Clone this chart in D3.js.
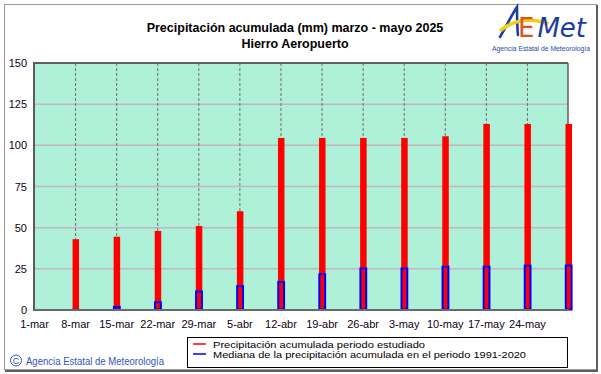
<!DOCTYPE html>
<html><head><meta charset="utf-8">
<script src="https://cdn.jsdelivr.net/npm/d3@7"></script>
<style>
html,body{margin:0;padding:0;background:#fff;}
svg{display:block;font-family:"Liberation Sans",Arial,sans-serif;}
</style></head>
<body><svg id="c" width="601" height="374"></svg>
<script>
// ---- data ----
const barDates = ["2025-03-08","2025-03-15","2025-03-22","2025-03-29","2025-04-05","2025-04-12","2025-04-19","2025-04-26","2025-05-03","2025-05-10","2025-05-17","2025-05-24","2025-05-31"];
const acumulada = [43, 44.5, 48, 51, 60, 104.5, 104.5, 104.5, 104.5, 105.5, 113, 113, 113];
const mediana = [0.4, 2.2, 5, 11.5, 14.8, 17.3, 22, 25.5, 25.5, 26.6, 26.6, 27.2, 27.3];
const tickDates = ["2025-03-01","2025-03-08","2025-03-15","2025-03-22","2025-03-29","2025-04-05","2025-04-12","2025-04-19","2025-04-26","2025-05-03","2025-05-10","2025-05-17","2025-05-24"];
const tickLabels = ["1-mar","8-mar","15-mar","22-mar","29-mar","5-abr","12-abr","19-abr","26-abr","3-may","10-may","17-may","24-may"];
const yTicks = [0,25,50,75,100,125,150];
const titleLines = ["Precipitación acumulada (mm) marzo - mayo 2025","Hierro Aeropuerto"];
const legendLabels = ["Precipitación acumulada periodo estudiado","Mediana de la precipitación acumulada en el periodo 1991-2020"];

const parse = s => new Date(s + "T00:00:00Z");
const svg = d3.select("#c");
const L = 34, R = 568, T = 63, B = 310;

const x = d3.scaleUtc().domain([parse("2025-03-01"), parse("2025-05-31")]).range([L, R]);
const y = d3.scaleLinear().domain([0,150]).range([B, T]);

// outer frame
svg.append("rect").attr("x",4.5).attr("y",4.5).attr("width",592).attr("height",365)
  .attr("fill","#fff").attr("stroke","#9a9a9a").attr("stroke-width",1);
svg.append("path").attr("d","M597,5 V371 H5").attr("fill","none").attr("stroke","#606060").attr("stroke-width",2);

// plot background
svg.append("rect").attr("x",L).attr("y",T).attr("width",R-L).attr("height",B-T).attr("fill","#aff0d8");

// horizontal grid
svg.append("g").selectAll("line").data(yTicks.filter(v=>v>0 && v<150)).join("line")
  .attr("x1",L).attr("x2",R).attr("y1",d=>y(d)).attr("y2",d=>y(d))
  .attr("stroke","#c4b4c4").attr("stroke-width",1.5);

// vertical dashed grid
svg.append("g").selectAll("line").data(tickDates.slice(1)).join("line")
  .attr("x1",d=>x(parse(d))+0.5).attr("x2",d=>x(parse(d))+0.5).attr("y1",T).attr("y2",B)
  .attr("stroke","#6e6e6e").attr("stroke-width",1).attr("stroke-dasharray","3,2");

// plot borders
svg.append("line").attr("x1",L).attr("x2",R).attr("y1",T).attr("y2",T).attr("stroke","#606060").attr("stroke-width",2);
svg.append("line").attr("x1",R).attr("x2",R).attr("y1",T).attr("y2",B).attr("stroke","#606060").attr("stroke-width",1.5);

// red bars
svg.append("g").selectAll("rect").data(barDates).join("rect")
  .attr("x",(d)=>x(parse(d))-2.5).attr("width",6.5)
  .attr("y",(d,i)=>y(acumulada[i])).attr("height",(d,i)=>B-y(acumulada[i]))
  .attr("fill","#ff0000");

// blue median outlines
svg.append("g").selectAll("rect").data(barDates).join("rect")
  .attr("x",(d)=>x(parse(d))-2.2).attr("width",5.8)
  .attr("y",(d,i)=>y(mediana[i])+0.5).attr("height",(d,i)=>Math.max(0.1,B-y(mediana[i])-1))
  .attr("fill","none").attr("stroke","#0000ff").attr("stroke-width",2);

// axes lines
svg.append("line").attr("x1",L).attr("x2",L).attr("y1",T-1).attr("y2",B+1).attr("stroke","#5a5a5a").attr("stroke-width",2);
svg.append("line").attr("x1",L).attr("x2",R+1).attr("y1",B).attr("y2",B).attr("stroke","#6a6a6a").attr("stroke-width",2);

// y axis labels
const yAxis = d3.axisLeft(y).tickValues(yTicks).tickSize(0).tickPadding(6);
const gy = svg.append("g").attr("transform",`translate(${L-1},0)`).call(yAxis);
gy.select(".domain").remove();
gy.selectAll("text").attr("font-size",11).attr("fill","#100020").attr("font-family","Liberation Sans, Arial, sans-serif");

// x axis labels
const xAxis = d3.axisBottom(x).tickValues(tickDates.map(parse)).tickSize(0).tickPadding(10)
  .tickFormat((d,i)=>tickLabels[i]);
const gx = svg.append("g").attr("transform",`translate(0,${B})`).call(xAxis);
gx.select(".domain").remove();
gx.selectAll("text").attr("font-size",11).attr("fill","#100020").attr("font-family","Liberation Sans, Arial, sans-serif");

// title
svg.append("g").selectAll("text").data(titleLines).join("text")
  .attr("x",295).attr("y",(d,i)=>32+i*15.5).attr("text-anchor","middle")
  .attr("font-size",12.5).attr("font-weight","bold").attr("fill","#000").text(d=>d);

// legend
svg.append("rect").attr("x",187.5).attr("y",337.5).attr("width",380).attr("height",30)
  .attr("fill","#fff").attr("stroke","#000").attr("stroke-width",1);
const legColors = ["#ff0000","#0000ff"];
const lg = svg.append("g").selectAll("g").data(legendLabels).join("g")
  .attr("transform",(d,i)=>`translate(0,${344+i*10})`);
lg.append("line").attr("x1",193).attr("x2",206).attr("y1",0).attr("y2",0)
  .attr("stroke",(d,i)=>legColors[i]).attr("stroke-width",1.5);
lg.append("text").attr("x",213).attr("y",3.8).attr("font-size",9.8).attr("fill","#000")
  .attr("textLength",(d,i)=>[212,313][i]).attr("lengthAdjust","spacingAndGlyphs").text(d=>d);

// copyright
svg.append("circle").attr("cx",16).attr("cy",360.5).attr("r",5.5).attr("fill","none").attr("stroke","#3355bb").attr("stroke-width",1);
svg.append("text").attr("x",16).attr("y",364).attr("text-anchor","middle").attr("font-size",9).attr("fill","#3355bb").text("C");
svg.append("text").attr("x",26).attr("y",364.5).attr("font-size",10.5).attr("fill","#3355bb")
  .attr("textLength",138).attr("lengthAdjust","spacingAndGlyphs").text("Agencia Estatal de Meteorología");

// logo
const logo = svg.append("g");
logo.append("path").attr("d","M500,37 C506,27 511,16 517,7 C517,16 517,26 518,35")
  .attr("fill","none").attr("stroke","#1a3ca8").attr("stroke-width",2.6).attr("stroke-linecap","round");
logo.append("path").attr("d","M501,30 C514,20 530,18 547,23")
  .attr("fill","none").attr("stroke","#f2cf10").attr("stroke-width",3.5).attr("stroke-linecap","round");
const lt = logo.append("text").attr("x",518).attr("y",37).attr("font-size",26)
  .attr("font-family","DejaVu Sans, sans-serif");
lt.append("tspan").attr("fill","#e4501c").text("E");
lt.append("tspan").attr("fill","#1a3ca8").attr("font-style","italic").attr("dx",3).text("Met");
logo.append("text").attr("x",492).attr("y",51).attr("font-size",7).attr("fill","#2a4aa8")
  .attr("textLength",98).attr("lengthAdjust","spacingAndGlyphs").text("Agencia Estatal de Meteorología");
</script></body></html>
